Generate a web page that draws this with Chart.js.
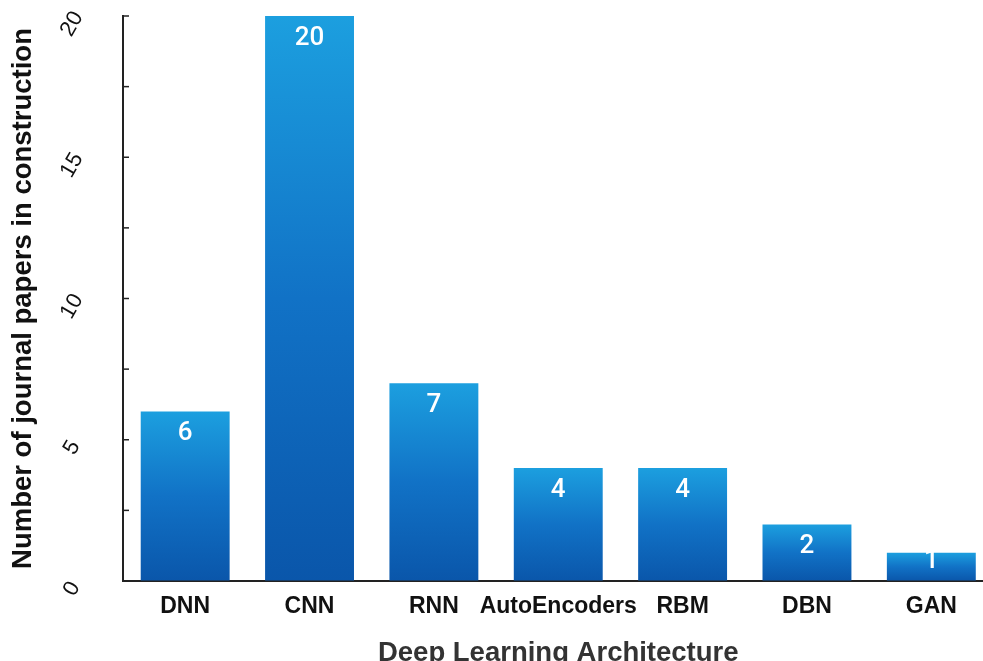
<!DOCTYPE html>
<html>
<head>
<meta charset="utf-8">
<script src="https://cdn.jsdelivr.net/npm/chart.js@4.4.1/dist/chart.umd.min.js"></script>
<style>
  html, body { margin: 0; padding: 0; background: #fff; overflow: hidden; }
  #wrap { width: 1000px; height: 661px; }
</style>
</head>
<body>
<div id="wrap"><canvas id="myChart" width="1000" height="661"></canvas></div>
<script>
// Data
const architectures = ['DNN', 'CNN', 'RNN', 'AutoEncoders', 'RBM', 'DBN', 'GAN'];
const paperCounts = [6, 20, 7, 4, 4, 2, 1];
const yTickLabels = [0, 5, 10, 15, 20];

const FONT = "'Liberation Sans', Arial, Helvetica, sans-serif";

// Per-bar vertical gradient: light blue at the top, deep blue at the base
function barGradient(context) {
    const chart = context.chart;
    if (!chart.chartArea || context.type !== 'data') return '#0e62b8';
    const yScale = chart.scales.y;
    const top = yScale.getPixelForValue(context.raw);
    const bottom = yScale.getPixelForValue(0);
    const g = chart.ctx.createLinearGradient(0, top, 0, bottom);
    g.addColorStop(0, '#1c9fdf');
    g.addColorStop(0.5, '#1172c6');
    g.addColorStop(1, '#0a56aa');
    return g;
}

// Inward tick marks and rotated labels on the y axis
const yAxisDecor = {
    id: 'yAxisDecor',
    afterDraw(chart) {
        const ctx = chart.ctx;
        const yScale = chart.scales.y;
        const x0 = chart.chartArea.left;
        ctx.save();
        ctx.strokeStyle = '#222';
        ctx.lineWidth = 1.5;
        yScale.ticks.forEach(t => {
            const py = yScale.getPixelForValue(t.value);
            ctx.beginPath();
            ctx.moveTo(x0, py);
            ctx.lineTo(x0 + 6, py);
            ctx.stroke();
        });
        ctx.fillStyle = '#111';
        ctx.font = '22px ' + FONT;
        ctx.textAlign = 'center';
        ctx.textBaseline = 'middle';
        yTickLabels.forEach(v => {
            const py = yScale.getPixelForValue(v);
            ctx.save();
            ctx.translate(72, py + 8);
            ctx.rotate(-Math.PI / 3);
            ctx.fillText(String(v), 0, 0);
            ctx.restore();
        });
        ctx.restore();
    }
};

// White value labels inside the top of each bar
const valueLabels = {
    id: 'valueLabels',
    afterDatasetsDraw(chart) {
        const ctx = chart.ctx;
        const meta = chart.getDatasetMeta(0);
        const base = chart.scales.y.getPixelForValue(0);
        ctx.save();
        ctx.fillStyle = '#fff';
        ctx.font = "500 26px Roboto, 'Liberation Sans', sans-serif";
        ctx.textAlign = 'center';
        ctx.textBaseline = 'middle';
        meta.data.forEach((bar, i) => {
            const y = Math.min(bar.y + 22, base - 20);
            ctx.fillText(String(paperCounts[i]), bar.x, y);
        });
        ctx.restore();
    }
};

const ctx = document.getElementById('myChart').getContext('2d');
const myChart = new Chart(ctx, {
    type: 'bar',
    data: {
        labels: architectures,
        datasets: [{
            data: paperCounts,
            backgroundColor: barGradient,
            borderWidth: 0,
            categoryPercentage: 1,
            barPercentage: 0.715
        }]
    },
    options: {
        responsive: false,
        animation: false,
        layout: { padding: { top: 16, right: 6.5, left: 0, bottom: 0 } },
        plugins: {
            legend: { display: false },
            tooltip: { enabled: false }
        },
        scales: {
            x: {
                afterFit: s => { s.height = 80; },
                grid: { display: true, drawOnChartArea: false, drawTicks: false },
                border: { display: true, color: '#222', width: 2 },
                ticks: {
                    color: '#111',
                    padding: 12,
                    maxRotation: 0,
                    autoSkip: false,
                    font: { family: FONT, size: 23, weight: 'bold' }
                },
                title: {
                    display: true,
                    text: 'Deep Learning Architecture',
                    color: '#333',
                    padding: 0,
                    font: { family: FONT, size: 27.5, weight: 'bold', lineHeight: 0.57 }
                }
            },
            y: {
                min: 0,
                max: 20,
                afterFit: s => { s.width = 123; },
                grid: { display: true, drawOnChartArea: false, drawTicks: false },
                border: { display: true, color: '#222', width: 2 },
                ticks: { stepSize: 2.5, display: false },
                title: {
                    display: true,
                    text: 'Number of journal papers in construction',
                    color: '#111',
                    padding: { top: 7, bottom: 0 },
                    font: { family: FONT, size: 27.5, weight: 'bold' }
                }
            }
        }
    },
    plugins: [yAxisDecor, valueLabels]
});
</script>
</body>
</html>
